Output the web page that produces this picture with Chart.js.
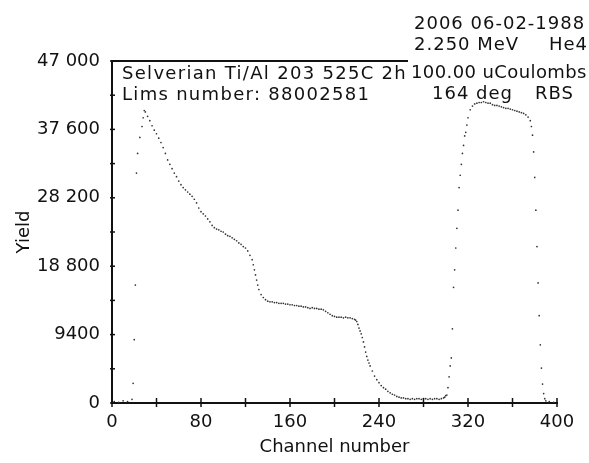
<!DOCTYPE html>
<html>
<head>
<meta charset="utf-8">
<script src="https://cdn.jsdelivr.net/npm/chart.js@4/dist/chart.umd.min.js"></script>
<style>
  html, body { margin: 0; padding: 0; background: #fff; }
</style>
</head>
<body>
<canvas id="rbs" width="589" height="463"></canvas>
<script>
// RBS spectrum (channel -> yield)
const channels = [
  2, 6, 10, 14, 18, 19, 20, 21, 22, 23, 25, 27, 28, 29,
  30, 32, 34, 36, 38, 40, 42, 44, 46, 48, 50, 52, 54, 56, 58, 60, 62, 64, 66, 68,
  70, 72, 74, 76, 78, 80, 82, 84, 86, 88, 90, 92, 94, 96, 98, 100, 102, 104, 106,
  108, 110, 112, 114, 116, 118, 120,
  122, 124, 126, 127, 128, 129, 130, 131, 132, 134, 136, 138,
  140, 142, 144, 146, 148, 150, 152, 154, 156, 158, 160, 162, 164, 166, 168, 170,
  172, 174, 176, 178, 180, 182, 184, 186, 188, 190, 192, 194, 196, 198, 200, 202,
  204, 206, 208, 210, 212, 214, 216, 218,
  219, 220, 221, 222, 223, 224, 225, 226, 227, 228, 229, 230, 231, 232, 234, 236,
  238, 240, 242, 244, 246, 248, 250, 252, 254, 256, 258, 260, 262,
  264, 266, 268, 270, 272, 274, 276, 278, 280, 282, 284, 286, 288, 290, 292, 294, 296, 298,
  299, 300, 301, 302, 303, 304, 305, 306, 307, 308, 309, 310, 311, 312, 313, 314, 315, 316, 317,
  318, 319, 320, 322, 324, 326, 328, 330, 332, 334, 336, 338, 340, 342, 344, 346, 348,
  350, 352, 354, 356, 358, 360, 362, 364, 366, 368, 370, 372, 374, 376,
  377, 378, 379, 380, 381, 382, 383, 384, 385, 386, 387, 388, 389, 390, 393, 397
];
const yields = [
  200, 100, 300, 200, 500, 2700, 8700, 16200, 31600, 34300, 36500, 38000, 39200, 40200,
  40000, 39400, 38800, 38100, 37500, 37000, 36400, 35800, 35100, 34300, 33400, 32800, 32200, 31600, 31100, 30500, 30000, 29600, 29300, 29000,
  28700, 28400, 28000, 27500, 26800, 26300, 26000, 25700, 25300, 24900, 24400, 24100, 23900, 23800, 23600, 23500, 23200, 23000, 22900,
  22700, 22500, 22300, 22000, 21800, 21500, 21300,
  20900, 20300, 19700, 19000, 18300, 17600, 16900, 16200, 15600, 14900, 14500, 14200,
  14000, 13900, 13900, 13800, 13800, 13700, 13700, 13700, 13600, 13600, 13500, 13500, 13400, 13400, 13300, 13300,
  13200, 13200, 13100, 13000, 13100, 13000, 13000, 12900, 12900, 12800, 12600, 12400, 12200, 12000, 11900, 11800,
  11800, 11800, 11700, 11800, 11700, 11700, 11600, 11500,
  11400, 11200, 10800, 10300, 9900, 9500, 9000, 8400, 7700, 7000, 6400, 5900, 5500, 5100, 4400, 3700,
  3200, 2800, 2400, 2100, 1900, 1600, 1400, 1200, 1100, 900, 800, 700, 700,
  600, 600, 500, 600, 500, 600, 600, 500, 600, 600, 500, 600, 500, 600, 600, 500, 600, 700,
  800, 1000, 1100, 2100, 3600, 5100, 6200, 10200, 15900, 18300, 21300, 24000, 26500, 29600, 31300, 32800, 34300, 35400, 36700,
  37200, 38200, 39200, 40300, 40800, 41100, 41200, 41300, 41300, 41400, 41300, 41200, 41200, 41000, 40900, 40900, 40800,
  40700, 40600, 40500, 40500, 40400, 40300, 40200, 40100, 40000, 39900, 39800, 39600, 39300, 38800,
  38000, 36800, 34500, 31000, 26500, 21500, 16500, 12000, 8000, 4800, 2600, 1300, 600, 300, 200, 100
];

const xLabelStep = 80;        // labelled channel ticks
const xTickStep = 40;         // all channel ticks
const yLabelStep = 9400;      // labelled yield ticks
const yTickStep = 4700;
const yMax = 47000;
const xMax = 400;

const sampleText = ['Selverian Ti/Al 203 525C 2h', 'Lims number: 88002581'];
const runDate = '2006 06-02-1988';
const beamEnergy = '2.250 MeV';
const beamIon = 'He4';
const charge = '100.00 uCoulombs';
const angle = '164 deg';
const method = 'RBS';

const FONT = '"DejaVu Sans", sans-serif';
const INK = '#111';

function fmtYield(v) {
  if (v % yLabelStep !== 0) return '';
  const s = String(v);
  return v >= 10000 ? s.slice(0, s.length - 3) + ' ' + s.slice(-3) : s;
}

// inward ticks, partial top frame and the header texts
const frame = {
  id: 'frame',
  afterDraw(chart) {
    const { ctx, chartArea: a, scales: { x, y } } = chart;
    ctx.save();
    ctx.strokeStyle = INK;
    ctx.lineWidth = 2;
    ctx.beginPath();
    ctx.moveTo(a.left - 1, a.top);
    ctx.lineTo(408, a.top);
    ctx.stroke();

    ctx.lineWidth = 1.5;
    x.ticks.forEach(t => {
      const px = x.getPixelForValue(t.value);
      ctx.beginPath();
      ctx.moveTo(px, a.bottom - 5);
      ctx.lineTo(px, a.bottom + 4);
      ctx.stroke();
    });
    y.ticks.forEach(t => {
      const py = y.getPixelForValue(t.value);
      ctx.beginPath();
      ctx.moveTo(a.left - 2, py);
      ctx.lineTo(a.left + 3, py);
      ctx.stroke();
    });

    ctx.fillStyle = INK;
    ctx.font = '18px ' + FONT;
    ctx.textBaseline = 'alphabetic';
    ctx.textAlign = 'left';
    ctx.letterSpacing = '1.3px';
    ctx.fillText(sampleText[0], 122, 79);
    ctx.fillText(sampleText[1], 122, 100);

    ctx.letterSpacing = '1px';
    ctx.fillText(runDate, 414, 29);
    ctx.fillText(beamEnergy, 414, 50);
    ctx.fillText(angle, 432, 99);
    ctx.letterSpacing = '0.4px';
    ctx.fillText(charge, 411, 78);
    ctx.letterSpacing = '1px';
    ctx.textAlign = 'right';
    ctx.fillText(beamIon, 588, 50);
    ctx.fillText(method, 574, 99);
    ctx.restore();
  }
};

new Chart(document.getElementById('rbs'), {
  type: 'scatter',
  data: {
    datasets: [{
      data: channels.map((c, i) => ({ x: c, y: yields[i] })),
      pointRadius: 0.85,
      pointHoverRadius: 0.85,
      pointBorderWidth: 0,
      pointBackgroundColor: '#333',
      showLine: false
    }]
  },
  options: {
    responsive: false,
    animation: false,
    events: [],
    layout: { padding: { top: 61, right: 32, left: 0, bottom: 0 } },
    plugins: { legend: { display: false }, tooltip: { enabled: false } },
    scales: {
      x: {
        type: 'linear',
        min: 0,
        max: xMax,
        afterFit(s) { s.height = 60; },
        grid: { display: false, drawTicks: false },
        border: { display: true, color: INK, width: 2 },
        ticks: {
          stepSize: xTickStep,
          autoSkip: false,
          maxRotation: 0,
          padding: 9,
          color: INK,
          font: { family: FONT, size: 18 },
          callback: v => (v % xLabelStep === 0 ? String(v) : '')
        },
        title: {
          display: true,
          text: 'Channel number',
          color: INK,
          font: { family: FONT, size: 18 },
          padding: { top: 0, bottom: 5 }
        }
      },
      y: {
        type: 'linear',
        min: 0,
        max: yMax,
        afterFit(s) { s.width = 112; },
        grid: { display: false, drawTicks: false },
        border: { display: true, color: INK, width: 2 },
        ticks: {
          stepSize: yTickStep,
          autoSkip: false,
          padding: 12,
          color: INK,
          font: { family: FONT, size: 18 },
          callback: v => fmtYield(v)
        },
        title: {
          display: true,
          text: 'Yield',
          color: INK,
          font: { family: FONT, size: 18 },
          padding: { top: 14, bottom: 0 }
        }
      }
    }
  },
  plugins: [frame]
});
</script>
</body>
</html>
